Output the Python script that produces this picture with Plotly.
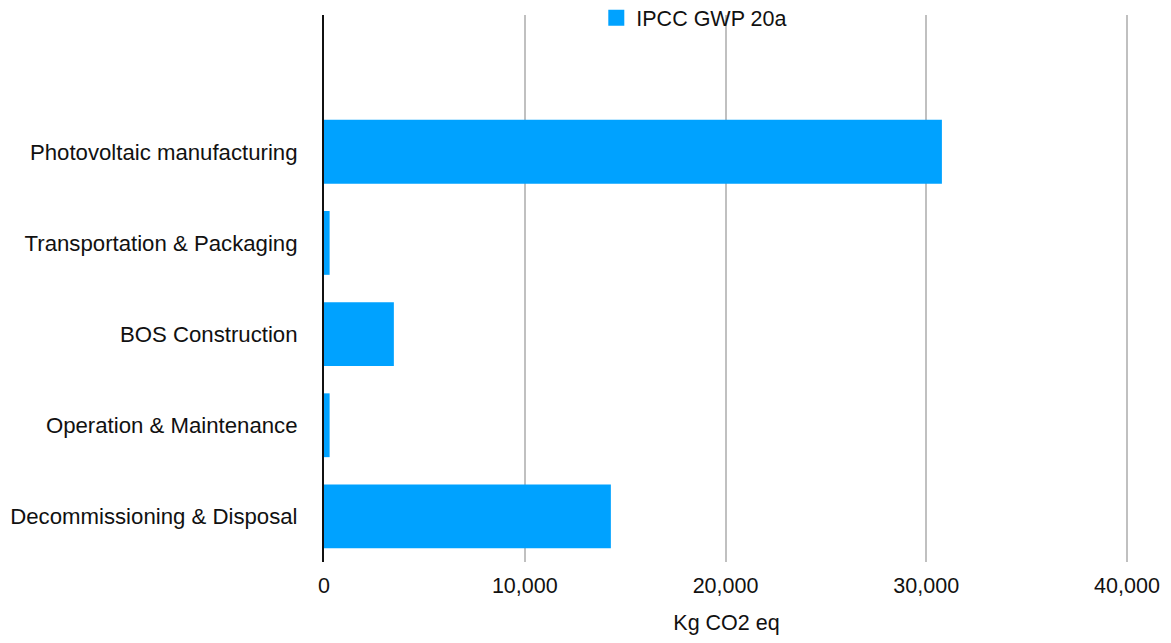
import plotly.graph_objects as go

categories = ["Photovoltaic manufacturing", "Transportation & Packaging", "BOS Construction",
              "Operation & Maintenance", "Decommissioning & Disposal"]
values = [30780, 280, 3480, 280, 14290]
series_name = "IPCC GWP 20a"
x_ticks = [0, 10000, 20000, 30000, 40000]
x_ticklabels = ["0", "10,000", "20,000", "30,000", "40,000"]
x_title = "Kg CO2 eq"

FONT = "Liberation Sans, Arial, Helvetica, sans-serif"
BLUE = "#00A2FF"

fig = go.Figure()
fig.add_trace(go.Bar(
    y=categories[::-1], x=values[::-1], orientation="h",
    marker=dict(color=BLUE, line=dict(width=0)),
    name=series_name, showlegend=False, width=0.7,
))
# legend entry
fig.add_trace(go.Scatter(
    x=[None], y=[None], mode="markers", name=series_name,
    marker=dict(symbol="square", size=20, color=BLUE),
))

fig.update_layout(
    width=1155, height=627,
    margin=dict(l=316, r=34, t=7, b=73, autoexpand=False),
    paper_bgcolor="white", plot_bgcolor="white",
    font=dict(family=FONT, size=22.2, color="#111"),
    legend=dict(orientation="h", x=0.46, xanchor="center", y=0.995, yanchor="middle",
                font=dict(size=21.5), bgcolor="rgba(0,0,0,0)", itemsizing="trace"),
    xaxis=dict(range=[0, 40100], tickvals=x_ticks, ticktext=x_ticklabels,
               showgrid=True, gridcolor="#c0c0c0", gridwidth=2,
               zeroline=False, showline=False, ticks="", automargin=False,
               ticklabelstandoff=8, tickfont=dict(size=21.5),
               title=dict(text=x_title, standoff=26, font=dict(size=21.5))),
    yaxis=dict(categoryorder="array", categoryarray=categories[::-1] + [" "],
               range=[-0.5, 5.5], showgrid=False, zeroline=False, automargin=False,
               showline=True, linecolor="#111", linewidth=2, ticks="",
               ticklabelstandoff=20),
)

fig.write_html("out.html")
